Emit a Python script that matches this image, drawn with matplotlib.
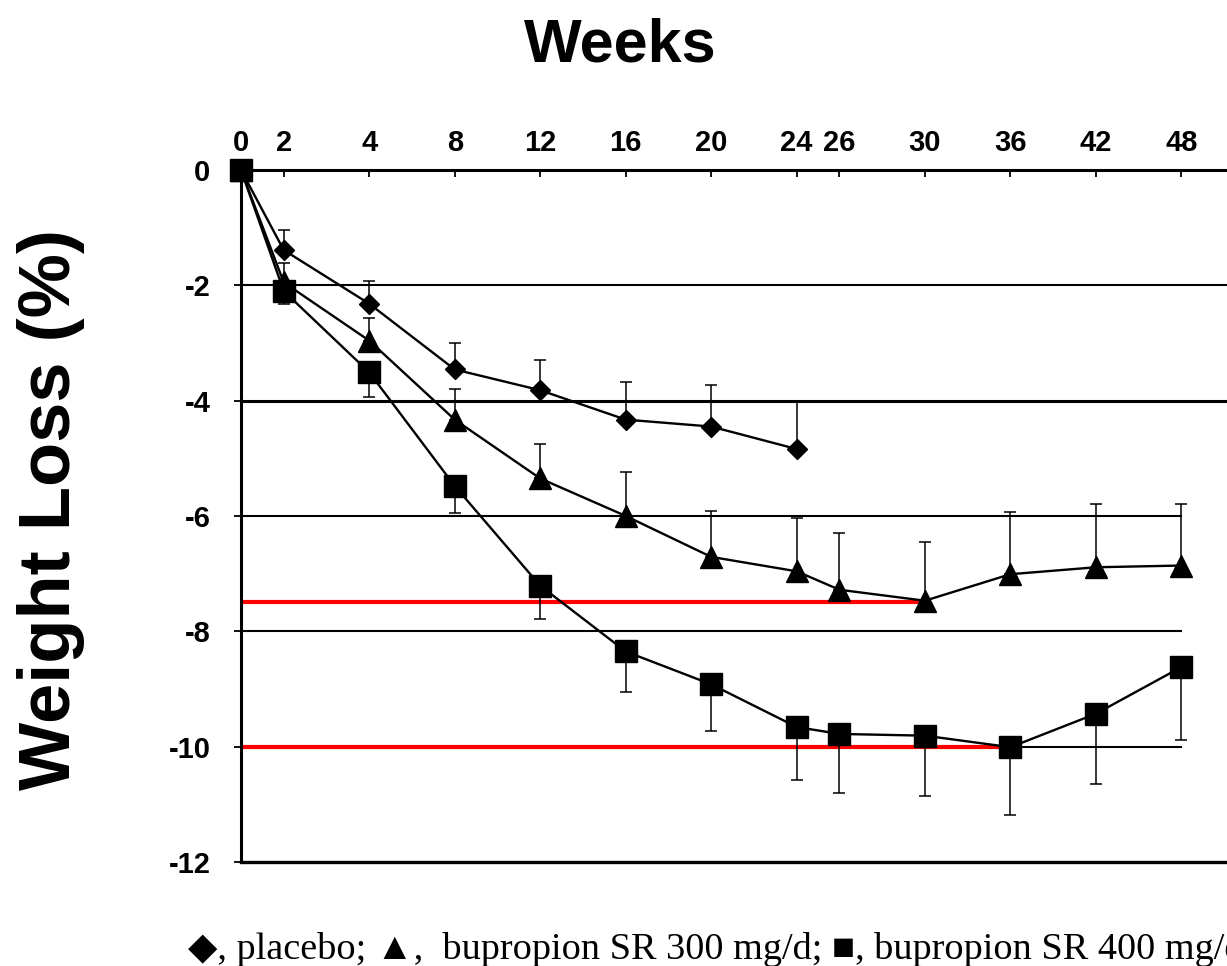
import matplotlib
matplotlib.use('Agg')
import matplotlib.pyplot as plt  # type: ignore[import]
import numpy as np  # type: ignore[import]

# weeks shown on the top axis
weeks = [0, 2, 4, 8, 12, 16, 20, 24, 26, 30, 36, 42, 48]

# placebo (diamonds), one-sided SE bars upward
placebo_weeks = [0, 2, 4, 8, 12, 16, 20, 24]
placebo_mean = [0, -1.39, -2.32, -3.46, -3.82, -4.33, -4.45, -4.84]
placebo_err = [0, 0.35, 0.40, 0.46, 0.53, 0.65, 0.72, 0.81]

# bupropion SR 300 mg/d (triangles), SE bars upward
b300_weeks = weeks
b300_mean = [0, -1.95, -2.96, -4.33, -5.35, -6.0, -6.71, -6.96, -7.28,
             -7.47, -7.01, -6.89, -6.86]
b300_err = [0, 0.33, 0.40, 0.53, 0.60, 0.76, 0.79, 0.93, 0.99,
            1.01, 1.08, 1.09, 1.07]

# bupropion SR 400 mg/d (squares), SE bars downward
b400_weeks = weeks
b400_mean = [0, -2.10, -3.51, -5.48, -7.21, -8.35, -8.92, -9.66, -9.78,
             -9.81, -10.01, -9.43, -8.62]
b400_err = [0, 0.23, 0.42, 0.47, 0.58, 0.71, 0.81, 0.92, 1.03,
            1.04, 1.17, 1.22, 1.26]

# reference lines
red_levels = [-7.5, -10]
red_ends = [30, 36]
grid_levels = [-2, -4, -6, -8, -10]

y_ticks = [0, -2, -4, -6, -8, -10, -12]

caption = ('\u25c6, placebo; \u25b2,  bupropion SR 300 mg/d; '
           '\u25a0, bupropion SR 400 mg/d')

# the week axis is not linear: each visit gets its own slot
anchor_w = np.array([0, 2, 4, 8, 12, 16, 20, 24, 26, 30, 36, 42, 48, 54],
                    dtype=float)
anchor_s = np.array([0, 0.5, 1.5, 2.5, 3.5, 4.5, 5.5, 6.5, 7, 8, 9, 10, 11,
                     12], dtype=float)


def fwd(w):
    return np.interp(w, anchor_w, anchor_s)


def inv(s):
    return np.interp(s, anchor_s, anchor_w)


plt.rcParams['font.family'] = ['Liberation Sans', 'DejaVu Sans']

W, H = 1227, 966
fig = plt.figure(figsize=(W / 100, H / 100), dpi=100)
ax = fig.add_axes([0.1964, 0.1077, 0.8036, 0.7164])
ax.set_xscale('function', functions=(fwd, inv))
ax.set_xlim(0, 51.2)
ax.set_ylim(-12, 0)

# horizontal guide lines
for lvl in grid_levels:
    xmax = 51.2 if lvl in (-2, -4) else 48
    lw = 2.2 if lvl == -4 else 1.5
    ax.plot([0, xmax], [lvl, lvl], color='black', lw=lw, zorder=1,
            clip_on=False)

for lvl, end in zip(red_levels, red_ends):
    ax.plot([0.2, end], [lvl, lvl], color='#ff0000', lw=3, zorder=2)

# error bars (one-sided)
ebar = dict(fmt='none', ecolor='black', elinewidth=1.1, capsize=4.3,
            capthick=1.1, zorder=3)
ax.errorbar(placebo_weeks[1:], placebo_mean[1:],
            yerr=[np.zeros(len(placebo_err) - 1), placebo_err[1:]], **ebar)
ax.errorbar(b300_weeks[1:], b300_mean[1:],
            yerr=[np.zeros(len(b300_err) - 1), b300_err[1:]], **ebar)
ax.errorbar(b400_weeks[1:], b400_mean[1:],
            yerr=[b400_err[1:], np.zeros(len(b400_err) - 1)], **ebar)

ax.plot(placebo_weeks, placebo_mean, color='black', lw=1.7, marker='D',
        ms=10, zorder=4, clip_on=False)
ax.plot(b300_weeks, b300_mean, color='black', lw=1.7, marker='^',
        ms=16, zorder=4, clip_on=False)
ax.plot(b400_weeks, b400_mean, color='black', lw=1.7, marker='s',
        ms=15.5, zorder=5, clip_on=False)

# axes styling
ax.spines['right'].set_visible(False)
ax.spines['left'].set_linewidth(2.2)
ax.spines['top'].set_linewidth(2.2)
ax.spines['bottom'].set_linewidth(2.4)

ax.xaxis.set_ticks_position('top')
ax.set_xticks(weeks)
ax.set_xticklabels([str(w) for w in weeks])
ax.xaxis.set_minor_locator(matplotlib.ticker.NullLocator())
ax.tick_params(axis='x', direction='in', length=5, width=1.3, pad=9,
               labelsize=21)
ax.set_yticks(y_ticks)
ax.set_yticklabels([str(v) for v in y_ticks])
ax.tick_params(axis='y', direction='out', length=5, width=1.3, pad=17,
               labelsize=21)
for lbl in ax.get_xticklabels() + ax.get_yticklabels():
    lbl.set_fontweight('bold')

ax.set_ylabel('Weight Loss (%)', fontsize=52, fontweight='bold')
ax.yaxis.set_label_coords(-0.158, 0.51)

fig.text(620 / W, 1 - 62 / H, 'Weeks', fontsize=44, fontweight='bold',
         ha='center', va='baseline')

# caption runs off the right edge, as in the original scan
fig.text(188 / W, 1 - 959 / H, caption, fontsize=27.5,
         family=['Liberation Serif', 'DejaVu Sans'], ha='left',
         va='baseline')

fig.savefig('out.png', dpi=100)
